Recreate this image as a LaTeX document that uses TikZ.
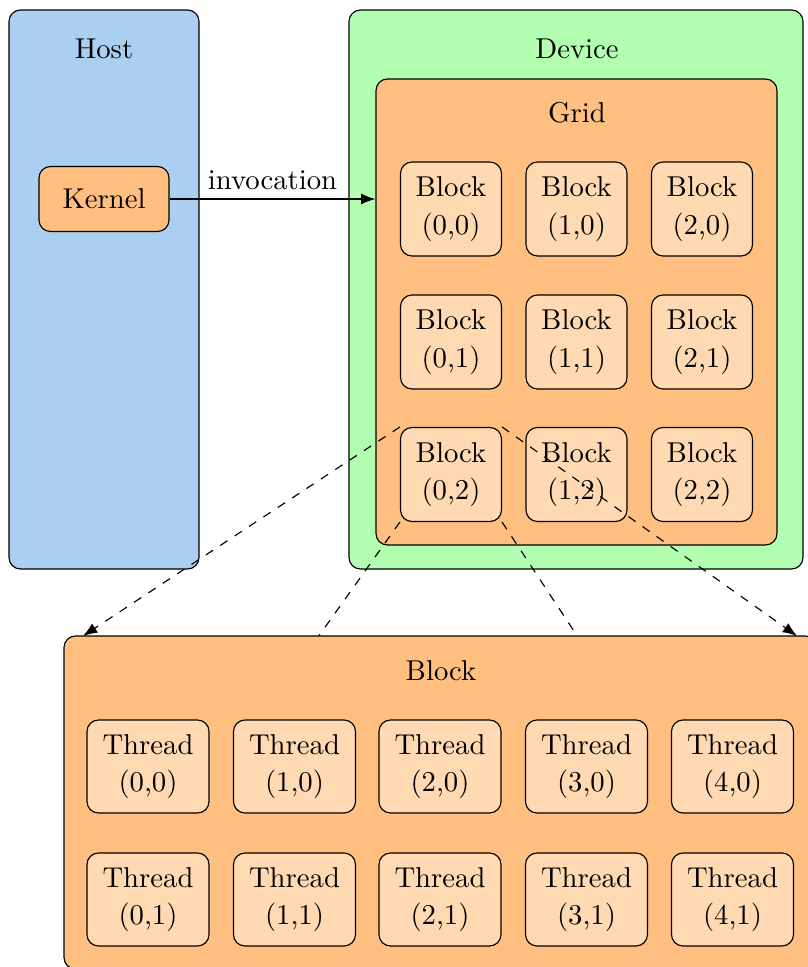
\documentclass[tikz,border=0pt]{standalone}
\usetikzlibrary{calc,arrows.meta}
\definecolor{hostblue}{RGB}{170,207,240}
\newcommand{\pu}{0.3485pt}
\begin{document}
\begin{tikzpicture}[x=0.3485pt, y=-0.3485pt,
  box/.style={draw=black, rounded corners=4pt, line width=0.4pt, inner sep=0pt},
  cell/.style={box, fill=orange!30, align=center, font=\fontsize{10}{13}\selectfont},
  blockcell/.style={cell, minimum width={101*\pu}, minimum height={94*\pu}},
  threadcell/.style={cell, minimum width={122*\pu}, minimum height={93*\pu}},
  title/.style={inner sep=0pt},
  tip/.style={-{Latex[length=5pt, width=3.8pt]}},
  zoomline/.style={dashed, line width=0.4pt}
]
\useasboundingbox (0,0) rectangle (808,967);
\clip (0,0) rectangle (808,967);

% host and device frames
\node[box, fill=hostblue, minimum width={190*\pu}, minimum height={559*\pu}] (host) at (104,289.5) {};
\node[title] (hosttitle) at (104,49) {Host};
\node[box, fill=green!30, minimum width={454*\pu}, minimum height={559*\pu}] (device) at (576,289.5) {};
\node[title] (devicetitle) at (577,49) {Device};

% grid of blocks
\node[box, fill=orange!50, minimum width={401*\pu}, minimum height={466*\pu}] (grid) at (576.5,312) {};
\node[title] (gridtitle) at (577,113) {Grid};
\foreach \i/\x in {0/451,1/576.5,2/702}{
  \foreach \j/\y in {0/209,1/342,2/474.5}{
    \node[blockcell] (b\i\j) at (\x,\y) {Block\\(\i,\j)};
  }
}

% kernel launch
\node[box, fill=orange!50, minimum width={130*\pu}, minimum height={65*\pu}] (kernel) at (104,199) {Kernel};
\draw[tip] (kernel.east) -- node[above=-0.4pt] {invocation} (kernel.east -| grid.west);

% expanded block
\coordinate (zoomnw) at (83,636);
\coordinate (zoomne) at (797,636);
\coordinate (zoomsw) at (83,967);
\coordinate (zoomse) at (797,969);
\draw[zoomline, tip] (b02.north west) -- (zoomnw);
\draw[zoomline, tip] (b02.north east) -- (zoomne);
\draw[zoomline] (b02.south west) -- (zoomsw);
\draw[zoomline] (b02.south east) -- (zoomse);

\node[box, fill=orange!50, minimum width={753*\pu}, minimum height={333*\pu}] (block) at (440.5,802.5) {};
\node[title] (blocktitle) at (441,671) {Block};
\foreach \i/\x in {0/148,1/294.5,2/440,3/586.5,4/732.5}{
  \foreach \j/\y in {0/766.5,1/899.5}{
    \node[threadcell] (t\i\j) at (\x,\y) {Thread\\(\i,\j)};
  }
}
\end{tikzpicture}
\end{document}
